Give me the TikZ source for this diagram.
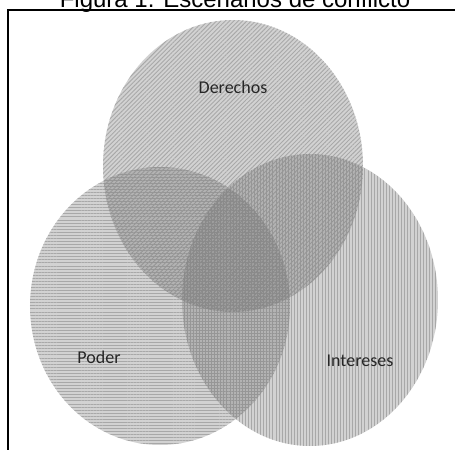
\documentclass[tikz,border=0pt]{standalone}
\usepackage{fontspec}
\setmainfont{Carlito}
\newfontfamily\titlefont{Liberation Sans}
\usetikzlibrary{patterns.meta}

\tikzset{
  zonefill/.style={fill=black!55, fill opacity=0.32},
  zonelines/.style={pattern={Lines[angle=#1, distance=2.3pt, line width=0.7pt]}, pattern color=black!24},
  zonelabel/.style={inner sep=0.75pt, text=black!85, font=\fontsize{13.5}{16}\selectfont},
}

\begin{document}
\begin{tikzpicture}[x=0.75pt,y=0.75pt,yscale=-1,xscale=1]
	\useasboundingbox (0,0) rectangle (455,450);
	% title, cut at the top of the page
	\node (title) [anchor=base, inner sep=0pt, font=\titlefont\fontsize{18}{20}\selectfont] at (235,7) {Figura 1. Escenarios de conflicto};
	% frame
	\draw [line width=1.5pt] (8.5,455) -- (8.5,9.5) -- (460,9.5);
	% the three zones: stripes first, grey tint on top
	\fill [zonelines=45] (233,166) ellipse (130 and 146);
	\fill [zonelines=0] (160,306) ellipse (130 and 139);
	\fill [zonelines=90] (310,300) ellipse (128 and 146);
	\fill [zonefill] (233,166) ellipse (130 and 146);
	\fill [zonefill] (160,306) ellipse (130 and 139);
	\fill [zonefill] (310,300) ellipse (128 and 146);
	% labels
	\node (derechos) [zonelabel] at (233,87) {Derechos};
	\node (poder) [zonelabel] at (99,357) {Poder};
	\node (intereses) [zonelabel] at (360,361) {Intereses};
\end{tikzpicture}
\end{document}
